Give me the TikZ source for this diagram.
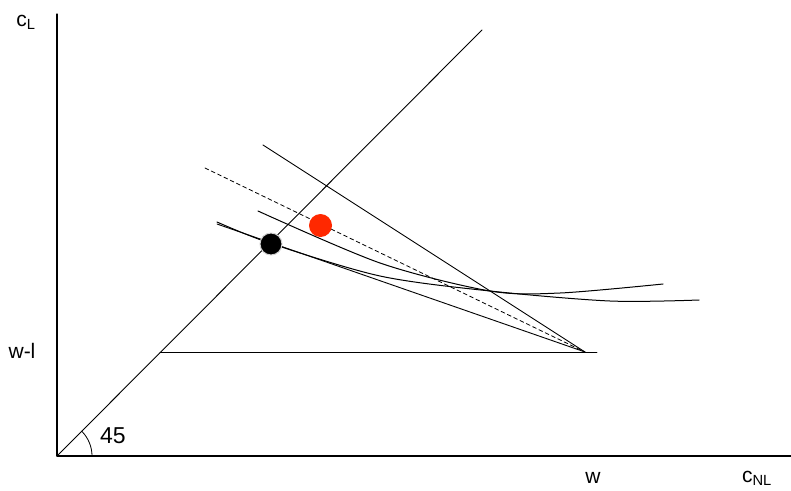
\documentclass[tikz,border=0pt]{standalone}
\usepackage{fontspec}
\setmainfont{Liberation Sans}
\usetikzlibrary{calc,positioning}

\definecolor{dotred}{RGB}{255,40,0}

\begin{document}
\begin{tikzpicture}[x=1pt, y=-1pt, line join=round, line cap=round,
    font=\fontsize{21}{25}\selectfont]
    \useasboundingbox (0,0) rectangle (791,490);
    \coordinate (O) at (57,456);
    \coordinate (E) at (585,352);
    % axes and 45 degree line
    \draw[line width=1.3pt] (57,14) -- (O) -- (791,456);
    \draw[line width=0.9pt] (O) -- (482,30);
    \draw[line width=0.8pt] (O) ++(35,0) arc[start angle=0, end angle=-45, radius=35];
    \node (ang) at (113,436) {\fontsize{23}{26}\selectfont 45};
    % endowment and budget lines
    \draw[line width=0.9pt] (160,352) -- (597,352);
    \draw[line width=0.9pt] (263,145) -- (E);
    \draw[line width=0.8pt, dash pattern=on 4pt off 3pt] (205,168) -- (E);
    \draw[line width=0.9pt] (217,224) -- (E);
    % indifference curves
    \draw[line width=1pt] plot[smooth] coordinates {(217,222) (271,243.5) (380,276) (490,291) (610,301) (699,300)};
    \draw[line width=1pt] plot[smooth] coordinates {(258,211) (380,263) (490,291) (560,293) (663,284)};
    % optima
    \fill[dotred] (320.5,225.5) circle[radius=11.5];
    \draw[fill=black, draw=gray!35, line width=1pt] (271,244) circle[radius=11];
    % labels
    \node (cl) at (26,22) {c\textsubscript{L}};
    \node (wl) at (22,351) {w-l};
    \node (w) at (593,478) {w};
    \node (cnl) at (757,478) {c\textsubscript{NL}};
\end{tikzpicture}
\end{document}
